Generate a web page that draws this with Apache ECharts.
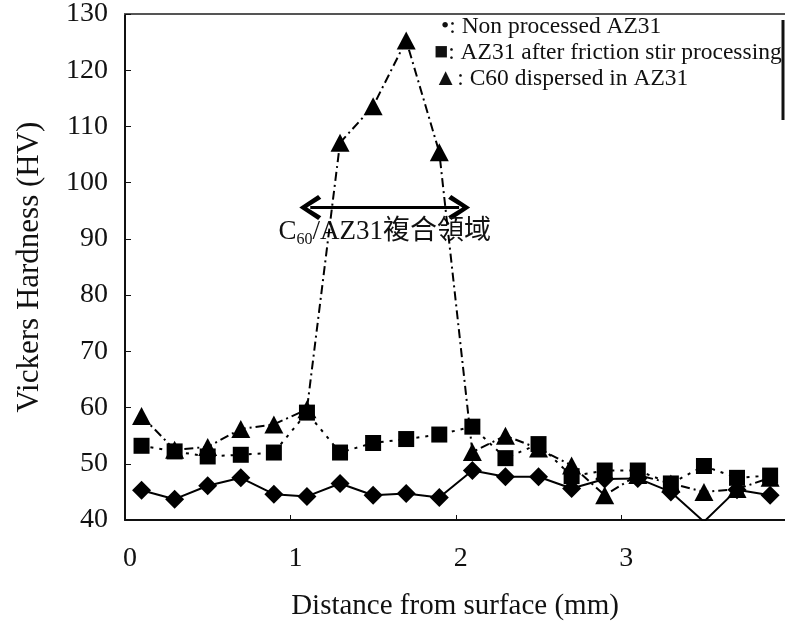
<!DOCTYPE html>
<html>
<head>
<meta charset="utf-8">
<script src="https://cdn.jsdelivr.net/npm/echarts@6/dist/echarts.min.js"></script>
<style>
  html, body { margin: 0; padding: 0; background: #fff; }
  #chart { width: 785px; height: 626px; }
</style>
</head>
<body>
<div id="chart"></div>
<script>
// distance from surface (mm)
const distance = [0.1, 0.3, 0.5, 0.7, 0.9, 1.1, 1.3, 1.5, 1.7, 1.9, 2.1, 2.3, 2.5, 2.7, 2.9, 3.1, 3.3, 3.5, 3.7, 3.9]
// Vickers hardness (HV)
const nonProcessed = [45.3, 43.7, 46.1, 47.5, 44.6, 44.2, 46.5, 44.4, 44.7, 44.0, 48.8, 47.7, 47.7, 45.6, 47.3, 47.4, 45.0, 39.7, 45.4, 44.4]
const afterFsp = [53.2, 52.2, 51.3, 51.6, 52.0, 59.1, 52.0, 53.7, 54.4, 55.2, 56.6, 51.0, 53.5, 47.8, 48.8, 48.8, 46.5, 49.6, 47.5, 47.9]
const c60Dispersed = [58.5, 52.5, 53.0, 56.2, 57.0, 59.7, 107.1, 113.6, 125.3, 105.4, 52.1, 55.0, 52.7, 49.7, 44.4, 48.0, 46.5, 45.0, 45.5, 47.5]

const legendLabels = ['•: Non processed AZ31', '■: AZ31 after friction stir processing', '▲: C60 dispersed in AZ31']
const regionLabel = 'C60/AZ31複合領域'
const regionFrom = [1.12, 95.6]
const regionTo = [2.02, 95.6]

const serif = '"Liberation Serif", "Noto Sans CJK TC", serif'

const pairs = vals => distance.map((d, i) => [d, vals[i]])

const chart = echarts.init(document.getElementById('chart'))
chart.setOption({
  backgroundColor: '#fff',
  animation: false,
  grid: {
    left: 125,
    top: 10,
    right: 0,
    bottom: 104
  },
  xAxis: [{
    type: 'value',
    min: 0,
    max: 3.99,
    interval: 1,
    name: 'Distance from surface (mm)',
    nameLocation: 'middle',
    nameGap: 72,
    nameTextStyle: { fontFamily: serif, fontSize: 29, color: '#111' },
    axisLine: { lineStyle: { color: '#111', width: 2 } },
    axisTick: { inside: true, length: 5, lineStyle: { color: '#111' } },
    axisLabel: {
      fontFamily: serif,
      fontSize: 28,
      color: '#111',
      margin: 25,
      padding: [0, 0, 0, 10],
      showMaxLabel: false
    },
    splitLine: { show: false }
  }, {
    // top frame line
    type: 'value',
    position: 'top',
    min: 0,
    max: 3.99,
    axisLine: { show: true, lineStyle: { color: '#555', width: 2 } },
    axisTick: { show: false },
    axisLabel: { show: false },
    splitLine: { show: false }
  }],
  yAxis: {
    type: 'value',
    min: 40,
    max: 130,
    interval: 10,
    name: 'Vickers Hardness (HV)',
    nameLocation: 'middle',
    nameGap: 80,
    nameTextStyle: { fontFamily: serif, fontSize: 31, color: '#111' },
    axisLine: { show: true, lineStyle: { color: '#111', width: 2 } },
    axisTick: { inside: true, length: 6, lineStyle: { color: '#111' } },
    axisLabel: { fontFamily: serif, fontSize: 28, color: '#111', margin: 17 },
    splitLine: { show: false }
  },
  graphic: [
    {
      type: 'group',
      left: 434,
      top: 15,
      children: legendLabels.map((t, i) => ({
        type: 'text',
        left: i === 0 ? 7 : 0,
        top: i * 26,
        style: { text: t, font: '23.5px ' + serif, fill: '#111' }
      }))
    },
    {
      type: 'line',
      shape: { x1: 783, y1: 20, x2: 783, y2: 120 },
      style: { stroke: '#111', lineWidth: 3 }
    }
  ],
  series: [{
    name: 'Non processed AZ31',
    type: 'line',
    data: pairs(nonProcessed),
    symbol: 'diamond',
    symbolSize: [19, 19],
    itemStyle: { color: '#000' },
    lineStyle: { color: '#000', width: 2 },
    z: 3
  }, {
    name: 'AZ31 after friction stir processing',
    type: 'line',
    data: pairs(afterFsp),
    symbol: 'rect',
    symbolSize: 16,
    itemStyle: { color: '#000' },
    lineStyle: { color: '#000', width: 2, type: [3, 6] },
    z: 4
  }, {
    name: 'C60 dispersed in AZ31',
    type: 'line',
    data: pairs(c60Dispersed),
    symbol: 'triangle',
    symbolSize: [19, 18],
    itemStyle: { color: '#000' },
    lineStyle: { color: '#000', width: 2, type: [9, 4, 2, 4] },
    z: 5,
    markLine: {
      silent: true,
      symbol: ['path://M10,0 L20,12 L17,14 L10,5 L3,14 L0,12 Z', 'path://M10,0 L20,12 L17,14 L10,5 L3,14 L0,12 Z'],
      symbolSize: [25, 22],
      lineStyle: { color: '#000', width: 3, type: 'solid' },
      label: {
        show: true,
        position: 'insideMiddleBottom',
        distance: 10,
        formatter: () => '{a|C}{s|60}{a|' + regionLabel.slice(3) + '}',
        rich: {
          a: { fontFamily: serif, fontSize: 27, color: '#111' },
          s: { fontFamily: serif, fontSize: 16, color: '#111', verticalAlign: 'bottom', padding: [14, 0, 0, 0] }
        }
      },
      data: [[{ coord: regionFrom }, { coord: regionTo }]]
    }
  }]
})
</script>
</body>
</html>
